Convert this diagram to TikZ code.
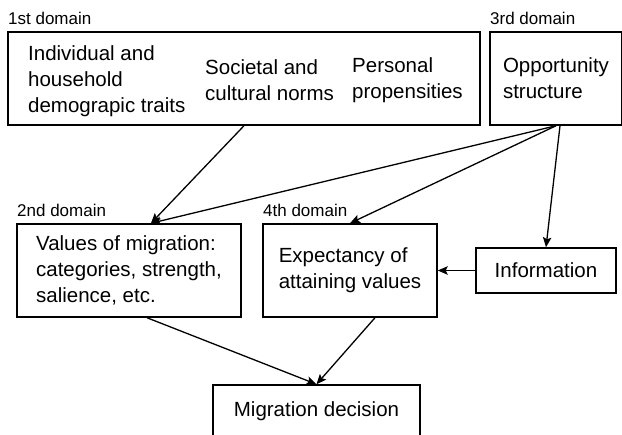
\documentclass[tikz,border=0pt]{standalone}
\usepackage{fontspec}
\setmainfont{Liberation Sans}
\usetikzlibrary{positioning,arrows.meta}

\begin{document}
\begin{tikzpicture}[x=1pt,y=-1pt,
        dombox/.style={draw,line width=1.5pt,inner sep=0pt,align=left,minimum height=93pt,font=\fontsize{20.5}{26}\selectfont},
        txt/.style={anchor=west,align=left,inner sep=0pt,font=\fontsize{20.5}{26}\selectfont},
        domlabel/.style={anchor=west,inner sep=0pt,font=\fontsize{17}{20}\selectfont},
        flow/.style={-{Stealth[length=10pt,width=8.5pt,inset=2pt]},line width=1.3pt}]
    \clip (0,0) rectangle (622,435);
    % 1st and 3rd domain
    \node[domlabel] (lab1) at (8,18) {1st domain};
    \node[dombox,minimum width=472pt] (dom1) at (244,78.5) {};
    \node[txt] (traits) at (28,81) {Individual and\\household\\demograpic traits};
    \node[txt] (norms) at (205,80.5) {Societal and\\cultural norms};
    \node[txt] (prop) at (352,80.5) {Personal\\propensities};
    \node[domlabel] (lab3) at (490,18) {3rd domain};
    \node[dombox,minimum width=132pt] (dom3) at (556,78.5) {Opportunity\\structure};
    % 2nd and 4th domain
    \node[domlabel] (lab2) at (17,210) {2nd domain};
    \node[dombox,minimum width=224pt] (dom2) at (129,270.5) {Values of migration:\\categories, strength,\\salience, etc.};
    \node[domlabel] (lab4) at (263,210) {4th domain};
    \node[dombox,minimum width=174pt] (dom4) at (350,270.5) {Expectancy of\\attaining values};
    \node[dombox,minimum width=140pt,minimum height=45pt] (info) at (546,270.5) {Information};
    \node[dombox,minimum width=207pt,minimum height=52pt] (decision) at (316.5,411) {Migration decision};
    % arrows
    \coordinate (valin) at ([xshift=22pt]dom2.north);
    \draw[flow] (dom1.south) -- (valin);
    \draw[flow] (dom3.south) -- (valin);
    \draw[flow] (dom3.south) -- (dom4.north);
    \draw[flow] ([xshift=4pt]dom3.south) -- (info.north);
    \draw[flow] (info) -- (dom4);
    \draw[flow] ([xshift=18pt]dom2.south) -- (decision.north);
    \draw[flow] ([xshift=25pt]dom4.south) -- (decision.north);
\end{tikzpicture}
\end{document}
